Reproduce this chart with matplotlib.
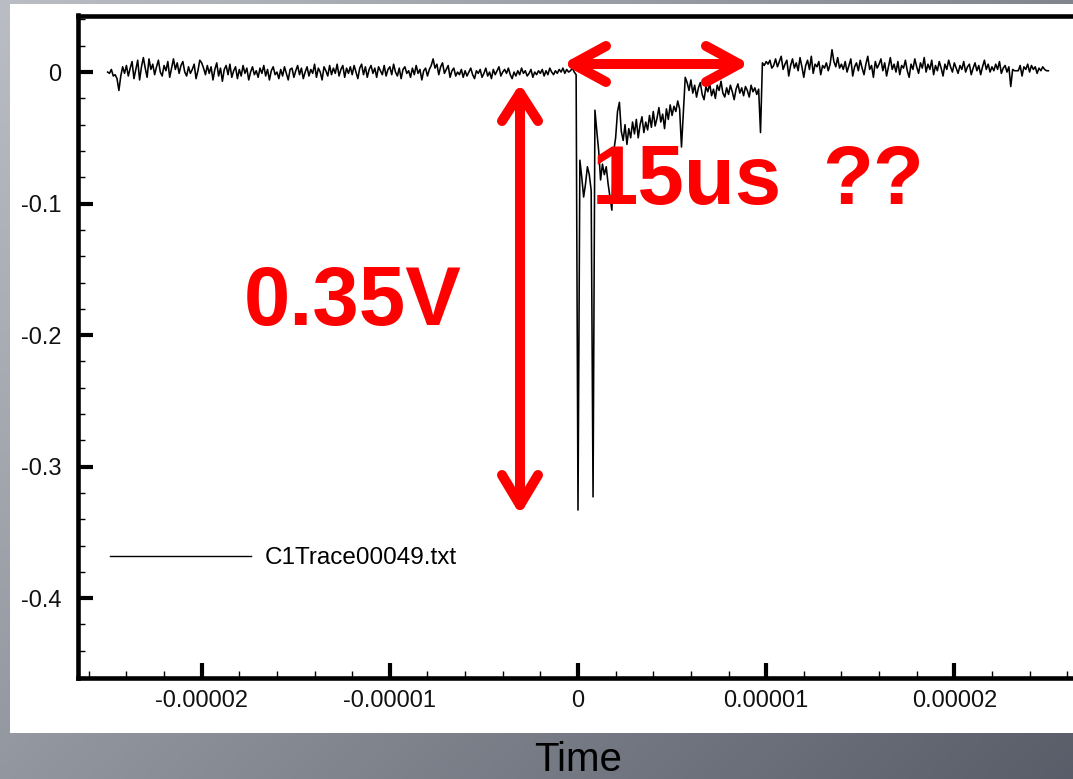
import numpy as np
import matplotlib
matplotlib.use("Agg")
import matplotlib.pyplot as plt
from matplotlib.patches import Rectangle
from matplotlib.ticker import MultipleLocator, FixedLocator

# ---------------- data (millivolts, sampled every 0.1 us from -25 us to +25 us) ----------------
pre_mv = [
    0, -1, 2, -3, -2, -5, -14, -3, 4, -1,
    5, -3, 3, 8, -5, 2, 9, -6, 4, 11,
    3, -4, 10, 2, 6, -2, 4, 9, 0, -3,
    5, 1, 8, -4, 3, 10, 2, 7, -1, 5,
    8, 0, -3, 4, -1, 2, 6, -5, 1, 9,
    7, 3, -2, 5, -1, 4, -6, 2, 7, -3,
    3, -7, 2, 5, -2, 6, -4, 1, 4, -5,
    2, -3, 5, -1, 3, -6, 0, 4, -2, 1,
    -4, 3, -1, 5, -3, 2, -6, 1, 4, -2,
    0, -5, 2, -3, 4, -1, -6, 2, 3, -4,
    1, 5, -2, 3, -5, 0, 4, -3, 2, -1,
    6, -4, 3, 0, -6, 4, 1, -3, 5, -2,
    3, -1, 6, -3, 2, 5, -4, 3, -1, 4,
    -2, 5, 0, -5, 3, 6, -2, 4, -4, 2,
    5, -1, 3, -4, 4, 1, -2, 5, -3, 2,
    4, -2, 6, 0, -3, 3, -5, 2, 4, -1,
    1, -4, 3, -2, 5, -1, 2, -6, 1, 3,
    -3, 2, 5, 10, 3, 6, -2, 4, 7, -1,
    2, 5, -4, 1, 3, -3, 0, -2, 2, -4,
    1, -3, 0, 3, -2, -5, 1, -1, 2, -4,
    -1, 3, -3, 0, -5, 2, -2, 1, 4, -3,
    0, 2, -1, 3, -2, -5, 0, -3, 1, -2,
    3, -1, 1, -3, -1, 2, -4, 0, -2, 1,
    -1, 2, -3, 1, -2, 3, 0, -2, 1, -1,
    2, 0, 3, -1, 2, 0, 1, 3, 0, -2,
]
pulse_mv = [
    -333, -67, -80, -95, -85, -72, -78, -90, -323, -29,
    -45, -60, -82, -70, -78, -72, -85, -95, -105, -60,
    -50, -30, -23, -45, -52, -40, -55, -43, -50, -38,
    -47, -36, -50, -40, -34, -46, -38, -44, -33, -42,
    -30, -41, -35, -27, -38, -32, -43, -28, -36, -25,
    -33, -26, -30, -22, -28, -57, -30, -4, -8, -14,
    -6, -16, -10, -19, -12, -8, -17, -21, -11, -15,
    -9, -18, -13, -20, -10, -14, -7, -16, -19, -12,
    -17, -10, -15, -21, -13, -9, -16, -12, -18, -11,
    -14, -19, -10, -15, -12, -17, -13, -46, 7, 5,
]
post_mv = [
    8, 6, 9, 3, 5, 10, 4, 8, 12, 2,
    6, 9, -3, 5, 10, 3, 7, 1, 11, 4,
    -4, 5, 9, 2, 12, -1, 6, 4, 8, -2,
    5, 3, 7, 1, 6, 17, 8, 4, 11, 3,
    6, 2, 8, 0, 5, 10, -3, 4, 7, 1,
    9, 3, -2, 6, 12, 2, 5, -4, 8, 3,
    6, 10, 1, 7, -3, 4, 11, 2, 6, 0,
    8, -2, 5, 3, 9, 1, -4, 6, 2, 10,
    4, -1, 7, 3, 11, 0, 6, 2, 9, -2,
    5, 1, 8, 3, -3, 6, 2, 9, 4, 0,
    7, 3, -1, 5, 2, 8, 0, 4, 6, -2,
    3, 7, 1, 5, -2, 4, 9, 2, 6, 0,
    4, 1, 6, 2, 8, -1, 3, 5, 0, 4,
    -11, 2, 1, 1, 1, 5, -3, 4, 2, 6,
    0, 5, 2, 4, -1, 3, 1, 4, 2, 1,
    1,
]
t_start, t_end = -25e-6, 25e-6
series_label = "C1Trace00049.txt"
x_ticks = [-0.00002, -0.00001, 0, 0.00001, 0.00002]
x_ticklabels = ["-0.00002", "-0.00001", "0", "0.00001", "0.00002"]
y_ticks = [0, -0.1, -0.2, -0.3, -0.4]
y_ticklabels = ["0", "-0.1", "-0.2", "-0.3", "-0.4"]

volts = np.array(pre_mv + pulse_mv + post_mv, dtype=float) / 1000.0
time = np.linspace(t_start, t_end, len(volts))

# ---------------- figure ----------------
W, H = 1073, 779
fig = plt.figure(figsize=(W / 100, H / 100), dpi=100)

# slide background gradient
bg = fig.add_axes([0, 0, 1, 1], zorder=0)
gx, gy = np.meshgrid(np.linspace(0, 1, 256), np.linspace(0, 1, 256))
s = np.clip(0.55 * gx + 0.38 * gy, 0, 1)
light = np.array([186, 190, 196]) / 255.0
dark = np.array([82, 86, 98]) / 255.0
img = light[None, None, :] * (1 - s[..., None]) + dark[None, None, :] * s[..., None]
bg.imshow(img, extent=[0, W, H, 0], aspect="auto", interpolation="bilinear")
bg.add_patch(Rectangle((10, 4), W - 10, 733 - 4, facecolor="white", edgecolor="none"))
bg.set_xlim(0, W)
bg.set_ylim(H, 0)
bg.axis("off")

# main axes (right edge beyond the figure)
left_px, right_px, top_px, bot_px = 77.5, 1078.5, 15.5, 677.5
ax = fig.add_axes([left_px / W, 1 - bot_px / H, (right_px - left_px) / W, (bot_px - top_px) / H], zorder=1)
ax.patch.set_alpha(0)
ax.plot(time, volts, color="black", lw=1.15, label=series_label)

ax.set_xlim(-2.66e-5, 2.66e-5)
ax.set_ylim(-0.4603, 0.0430)
for side in ["left", "bottom", "top", "right"]:
    ax.spines[side].set_linewidth(3.3)
    ax.spines[side].set_color("black")

ax.xaxis.set_major_locator(FixedLocator(x_ticks))
ax.set_xticklabels(x_ticklabels)
ax.yaxis.set_major_locator(FixedLocator(y_ticks))
ax.set_yticklabels(y_ticklabels)
ax.xaxis.set_minor_locator(MultipleLocator(2e-6))
ax.yaxis.set_minor_locator(MultipleLocator(0.02))
ax.tick_params(which="major", direction="in", length=10.5, width=3.0, colors="black")
ax.tick_params(which="minor", direction="in", length=5, width=1.0, colors="black")
ax.tick_params(axis="y", which="major", pad=11.5)
ax.tick_params(axis="x", which="major", pad=9)
ax.tick_params(top=False, right=False, which="both")
for lbl in ax.get_xticklabels() + ax.get_yticklabels():
    lbl.set_fontfamily(["Liberation Sans", "DejaVu Sans"])
    lbl.set_fontsize(17)
    lbl.set_color("#111111")

ax.set_xlabel("Time", fontsize=29, family=["Liberation Sans", "DejaVu Sans"], color="black", labelpad=21)

leg = ax.legend(loc="center left", bbox_to_anchor=(32.5 / 1001, (677.5 - 558) / 662),
                frameon=False, borderpad=0, borderaxespad=0, handlelength=5.8,
                handletextpad=0.55, prop={"family": ["Liberation Sans", "DejaVu Sans"], "size": 17.5})
for h in leg.get_lines():
    h.set_linewidth(1.0)

# ---------------- red annotations (overlay in pixel coordinates) ----------------
ov = fig.add_axes([0, 0, 1, 1], zorder=2)
ov.set_xlim(0, W)
ov.set_ylim(H, 0)
ov.axis("off")
red = "#ff0000"
lw = 7.2
kw = dict(color=red, lw=lw, solid_capstyle="round", solid_joinstyle="round")
# vertical double arrow
ov.plot([520, 520], [93, 505], **kw)
ov.plot([502, 520, 538], [121, 93, 121], **kw)
ov.plot([502, 520, 538], [475, 505, 475], **kw)
# horizontal double arrow
ov.plot([573, 739], [64, 64], **kw)
ov.plot([606, 573, 606], [46, 64, 82], **kw)
ov.plot([706, 739, 706], [46, 64, 82], **kw)

big = dict(color=red, fontsize=60, fontweight="bold", family=["Liberation Sans", "DejaVu Sans"], va="baseline")
ov.text(353, 325, "0.35V", ha="center", **big)
ov.text(592, 204, "15us", ha="left", **big)
ov.text(822, 204, "??", ha="left", **big)

fig.savefig("out.png", dpi=100)
